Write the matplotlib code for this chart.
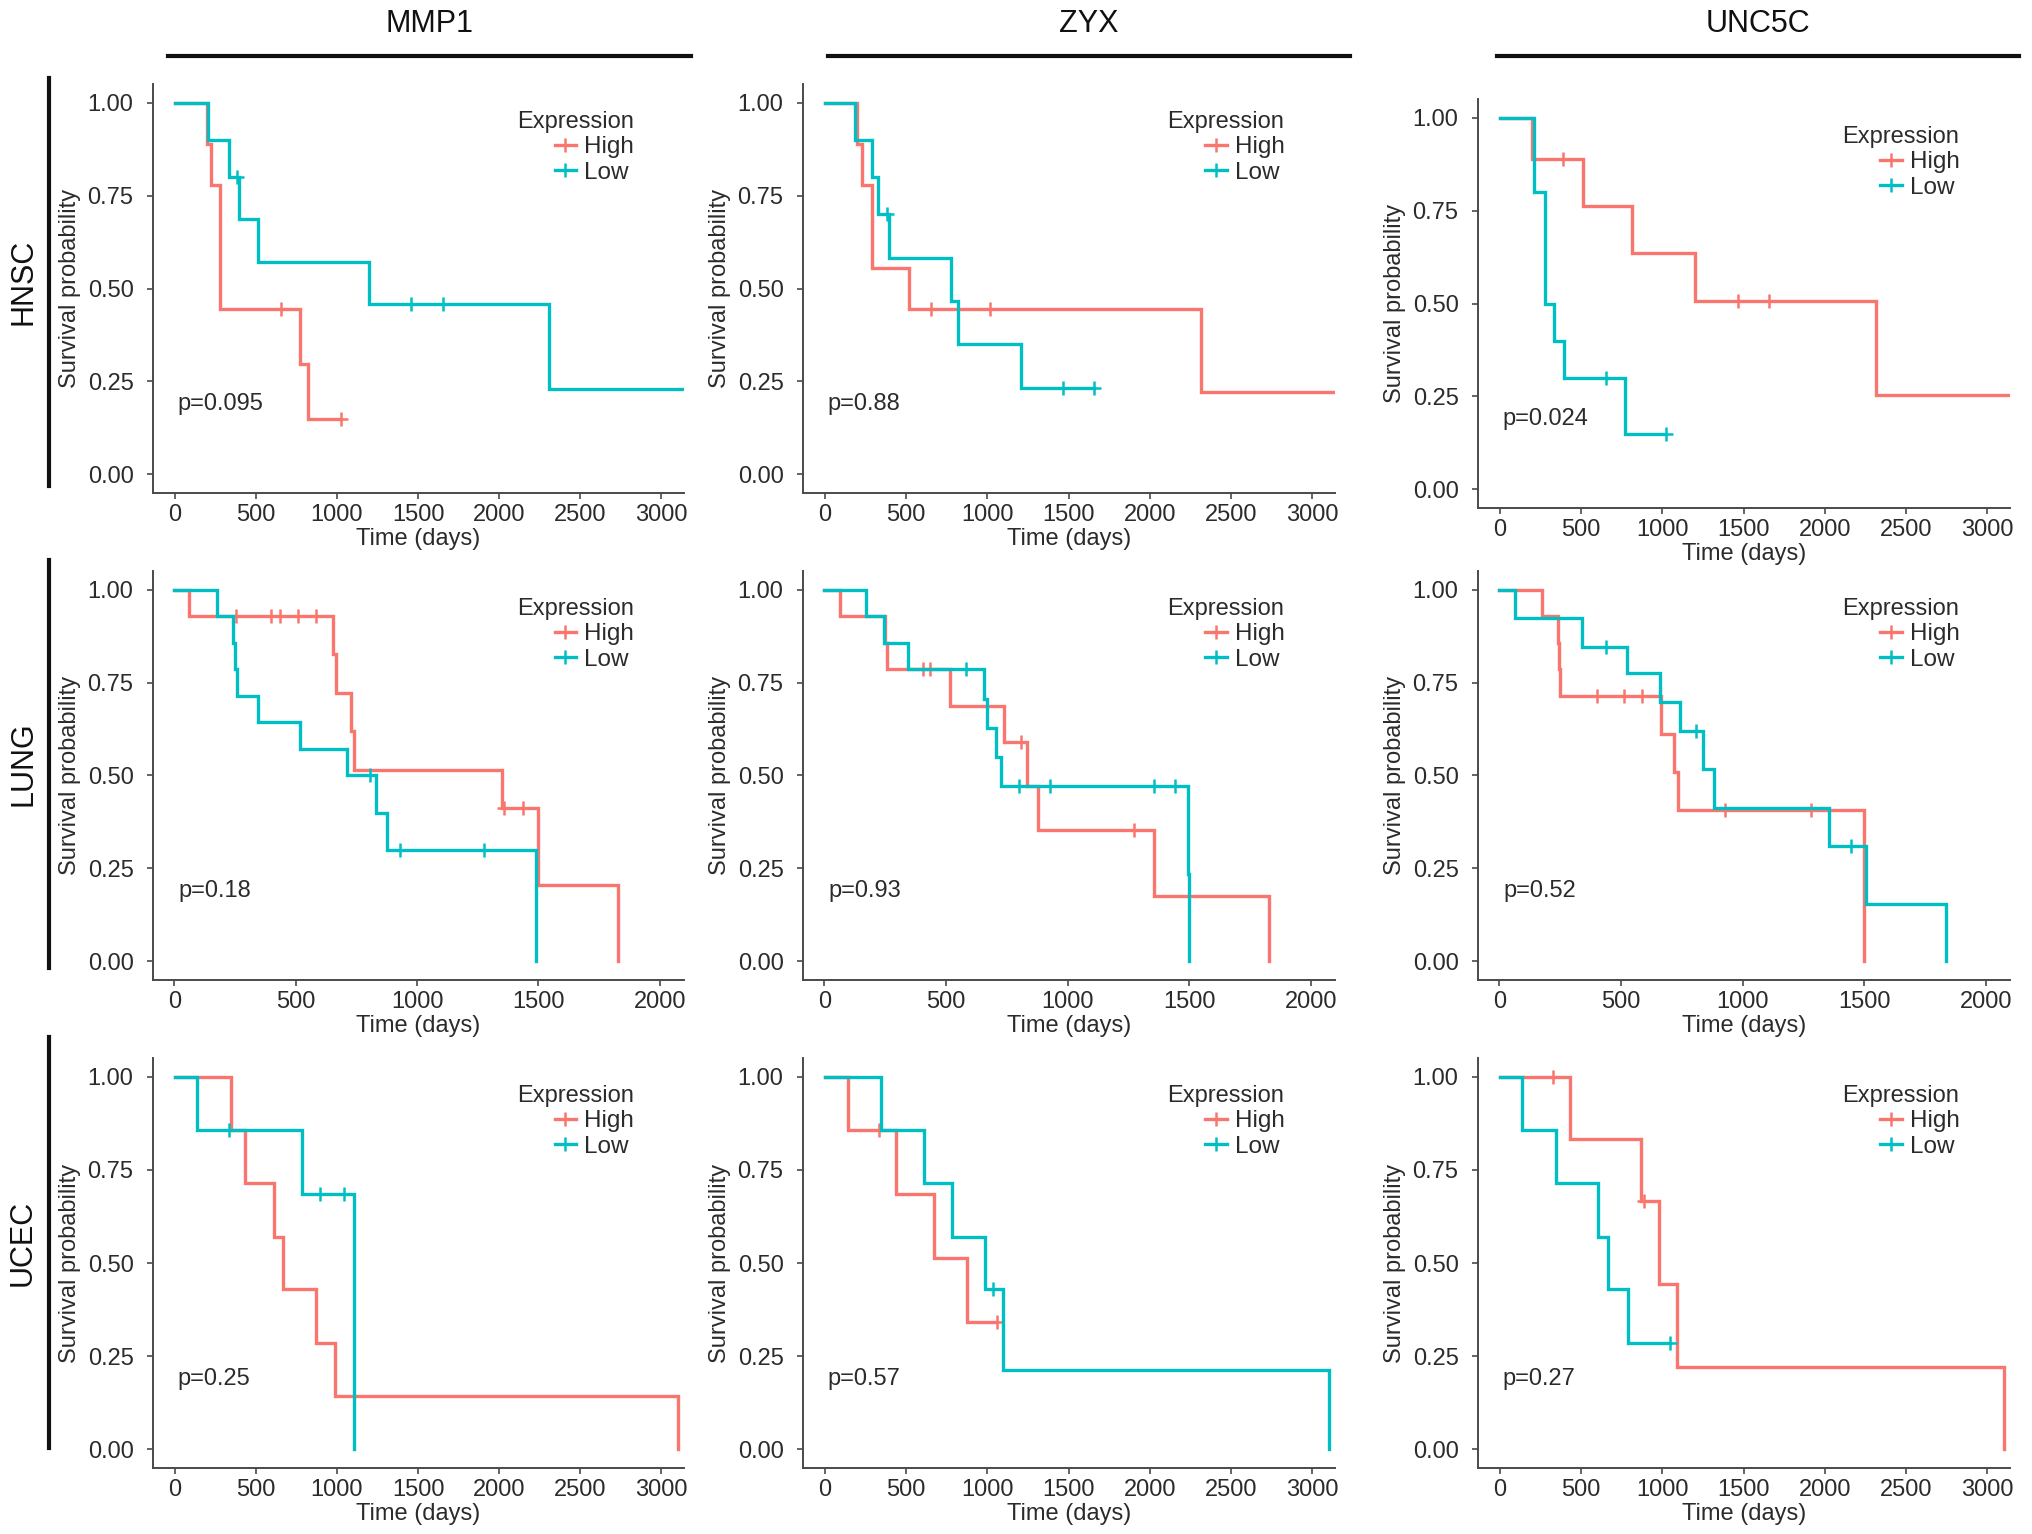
import matplotlib
matplotlib.use("Agg")
import matplotlib.pyplot as plt
from matplotlib.lines import Line2D
import numpy as np

plt.rcParams['font.family'] = ['Liberation Sans', 'DejaVu Sans']

HIGH_COLOR = "#F8766D"
LOW_COLOR = "#00BFC4"

genes = ["MMP1", "ZYX", "UNC5C"]
cancers = ["HNSC", "LUNG", "UCEC"]
groups = ["High", "Low"]

# Kaplan-Meier steps: time (days) and survival after each step
# HNSC
hnsc_mmp1_high_t = [0, 200, 222, 278, 772, 819, 1028]
hnsc_mmp1_high_s = [1, 0.889, 0.778, 0.444, 0.296, 0.148, 0.148]
hnsc_mmp1_high_c = [653, 1028]
hnsc_mmp1_low_t = [0, 208, 333, 395, 514, 1200, 2306, 3140]
hnsc_mmp1_low_s = [1, 0.9, 0.8, 0.686, 0.571, 0.457, 0.229, 0.229]
hnsc_mmp1_low_c = [385, 1458, 1653]

hnsc_zyx_high_t = [0, 200, 227, 289, 519, 2316, 3140]
hnsc_zyx_high_s = [1, 0.889, 0.778, 0.556, 0.444, 0.222, 0.222]
hnsc_zyx_high_c = [654, 1019]
hnsc_zyx_low_t = [0, 189, 289, 330, 397, 776, 822, 1208, 1654]
hnsc_zyx_low_s = [1, 0.9, 0.8, 0.7, 0.583, 0.467, 0.35, 0.233, 0.233]
hnsc_zyx_low_c = [384, 1465, 1654]

hnsc_unc5c_high_t = [0, 200, 513, 816, 1201, 2318, 3140]
hnsc_unc5c_high_s = [1, 0.889, 0.762, 0.635, 0.508, 0.254, 0.254]
hnsc_unc5c_high_c = [388, 1463, 1655]
hnsc_unc5c_low_t = [0, 211, 278, 332, 398, 773, 1021]
hnsc_unc5c_low_s = [1, 0.8, 0.5, 0.4, 0.3, 0.15, 0.15]
hnsc_unc5c_low_c = [652, 1021]

# LUNG
lung_mmp1_high_t = [0, 61, 655, 664, 729, 742, 1350, 1499, 1828]
lung_mmp1_high_s = [1, 0.929, 0.826, 0.722, 0.619, 0.516, 0.413, 0.206, 0]
lung_mmp1_high_c = [254, 399, 436, 510, 584, 1358, 1438]
lung_mmp1_low_t = [0, 176, 240, 250, 258, 343, 519, 710, 831, 876, 1490]
lung_mmp1_low_s = [1, 0.929, 0.857, 0.786, 0.714, 0.643, 0.571, 0.5, 0.4, 0.3, 0]
lung_mmp1_low_c = [807, 928, 1276]

lung_zyx_high_t = [0, 63, 250, 256, 517, 739, 832, 880, 1355, 1827]
lung_zyx_high_s = [1, 0.929, 0.857, 0.786, 0.688, 0.589, 0.471, 0.353, 0.176, 0]
lung_zyx_high_c = [405, 436, 809, 1274]
lung_zyx_low_t = [0, 171, 247, 342, 656, 668, 705, 726, 1495, 1500]
lung_zyx_low_s = [1, 0.929, 0.857, 0.786, 0.707, 0.628, 0.55, 0.471, 0.235, 0]
lung_zyx_low_c = [584, 802, 926, 1355, 1441]

lung_unc5c_high_t = [0, 177, 240, 246, 251, 666, 720, 734, 1499]
lung_unc5c_high_s = [1, 0.929, 0.857, 0.786, 0.714, 0.612, 0.51, 0.408, 0]
lung_unc5c_high_c = [403, 514, 585, 929, 1280]
lung_unc5c_low_t = [0, 63, 340, 523, 662, 743, 836, 881, 1355, 1508, 1835]
lung_unc5c_low_s = [1, 0.923, 0.846, 0.775, 0.697, 0.62, 0.517, 0.413, 0.31, 0.155, 0]
lung_unc5c_low_c = [439, 809, 1445]

# UCEC
ucec_mmp1_high_t = [0, 347, 431, 611, 667, 869, 986, 3106]
ucec_mmp1_high_s = [1, 0.857, 0.714, 0.571, 0.429, 0.286, 0.143, 0]
ucec_mmp1_high_c = []
ucec_mmp1_low_t = [0, 139, 786, 1103]
ucec_mmp1_low_s = [1, 0.857, 0.686, 0]
ucec_mmp1_low_c = [333, 894, 1042]

ucec_zyx_high_t = [0, 141, 439, 675, 873, 1062]
ucec_zyx_high_s = [1, 0.857, 0.686, 0.514, 0.343, 0.343]
ucec_zyx_high_c = [331, 1062]
ucec_zyx_low_t = [0, 344, 610, 786, 989, 1095, 3106]
ucec_zyx_low_s = [1, 0.857, 0.714, 0.571, 0.429, 0.214, 0]
ucec_zyx_low_c = [1035]

ucec_unc5c_high_t = [0, 432, 867, 979, 1093, 3106]
ucec_unc5c_high_s = [1, 0.833, 0.667, 0.444, 0.222, 0]
ucec_unc5c_high_c = [325, 885]
ucec_unc5c_low_t = [0, 139, 344, 605, 664, 787, 1045]
ucec_unc5c_low_s = [1, 0.857, 0.714, 0.571, 0.429, 0.286, 0.286]
ucec_unc5c_low_c = [1045]

p_hnsc = ["0.095", "0.88", "0.024"]
p_lung = ["0.18", "0.93", "0.52"]
p_ucec = ["0.25", "0.57", "0.27"]

x_max_by_row = [3000, 2000, 3000]
y_ticks = [0, 0.25, 0.5, 0.75, 1.0]

curves = {
    (0, 0): ((hnsc_mmp1_high_t, hnsc_mmp1_high_s, hnsc_mmp1_high_c), (hnsc_mmp1_low_t, hnsc_mmp1_low_s, hnsc_mmp1_low_c)),
    (0, 1): ((hnsc_zyx_high_t, hnsc_zyx_high_s, hnsc_zyx_high_c), (hnsc_zyx_low_t, hnsc_zyx_low_s, hnsc_zyx_low_c)),
    (0, 2): ((hnsc_unc5c_high_t, hnsc_unc5c_high_s, hnsc_unc5c_high_c), (hnsc_unc5c_low_t, hnsc_unc5c_low_s, hnsc_unc5c_low_c)),
    (1, 0): ((lung_mmp1_high_t, lung_mmp1_high_s, lung_mmp1_high_c), (lung_mmp1_low_t, lung_mmp1_low_s, lung_mmp1_low_c)),
    (1, 1): ((lung_zyx_high_t, lung_zyx_high_s, lung_zyx_high_c), (lung_zyx_low_t, lung_zyx_low_s, lung_zyx_low_c)),
    (1, 2): ((lung_unc5c_high_t, lung_unc5c_high_s, lung_unc5c_high_c), (lung_unc5c_low_t, lung_unc5c_low_s, lung_unc5c_low_c)),
    (2, 0): ((ucec_mmp1_high_t, ucec_mmp1_high_s, ucec_mmp1_high_c), (ucec_mmp1_low_t, ucec_mmp1_low_s, ucec_mmp1_low_c)),
    (2, 1): ((ucec_zyx_high_t, ucec_zyx_high_s, ucec_zyx_high_c), (ucec_zyx_low_t, ucec_zyx_low_s, ucec_zyx_low_c)),
    (2, 2): ((ucec_unc5c_high_t, ucec_unc5c_high_s, ucec_unc5c_high_c), (ucec_unc5c_low_t, ucec_unc5c_low_s, ucec_unc5c_low_c)),
}
p_values = [p_hnsc, p_lung, p_ucec]

W, H = 2032, 1534
fig = plt.figure(figsize=(W / 100, H / 100), dpi=100)


def fx(px):
    return px / W


def fy(py):
    return 1 - py / H


# axes boxes in pixels: left, right, top, bottom
col_lr = [(153, 684), (803, 1335), (1478, 2010)]
row_tb = [(84, 493), (571, 980), (1058, 1468)]

AX_COLOR = "#4a4a4a"
TXT_COLOR = "#2b2b2b"


def surv_at(t, s, x):
    i = np.searchsorted(t, x, side="right") - 1
    return s[max(i, 0)]


for r in range(3):
    for c in range(3):
        left, right = col_lr[c]
        top, bottom = row_tb[r]
        if r == 0 and c == 2:
            top, bottom = top + 15, bottom + 15
        ax = fig.add_axes([fx(left), fy(bottom), (right - left) / W, (bottom - top) / H])
        colors = [HIGH_COLOR, LOW_COLOR]
        for (t, s, cens), col in zip(curves[(r, c)], colors):
            ax.step(t, s, where="post", color=col, lw=2.4, solid_joinstyle="miter")
            cy = [surv_at(t, s, x) for x in cens]
            ax.plot(cens, cy, ls="none", marker="+", ms=10, mew=1.8, color=col)

        xmax = x_max_by_row[r]
        if xmax == 3000:
            ax.set_xlim(-134, 3140)
        else:
            ax.set_xlim(-88, 2100)
        ax.set_ylim(-0.05, 1.05)
        ax.set_xticks(np.arange(0, xmax + 1, 500))
        ax.set_yticks(y_ticks)
        ax.set_yticklabels(["{:.2f}".format(v) for v in y_ticks])

        for side in ["top", "right"]:
            ax.spines[side].set_visible(False)
        for side in ["left", "bottom"]:
            ax.spines[side].set_color(AX_COLOR)
            ax.spines[side].set_linewidth(1.4)
        ax.tick_params(axis="both", direction="out", length=4, width=1.2, color=AX_COLOR,
                       labelsize=17, labelcolor=TXT_COLOR)
        ax.tick_params(axis="y", pad=10)
        ax.tick_params(axis="x", pad=4)

        ax.set_ylabel("Survival probability", fontsize=17, color=TXT_COLOR)
        ax.yaxis.set_label_coords(-0.135, 0.5)
        ax.set_xlabel("Time (days)", fontsize=17, color=TXT_COLOR)
        ax.xaxis.set_label_coords(0.5, -0.085)

        ax.text(15, 0.19, "p=" + p_values[r][c], fontsize=17, color=TXT_COLOR,
                ha="left", va="center")

        handles = [Line2D([], [], color=col, lw=2.4, marker="+", ms=10, mew=1.8) for col in colors]
        leg = ax.legend(handles, groups, title="Expression", loc="upper right",
                        bbox_to_anchor=(0.905, 0.935), frameon=False, fontsize=17.5,
                        title_fontsize=17, handlelength=0.9, handletextpad=0.3,
                        labelspacing=0.15, borderpad=0, borderaxespad=0, alignment="right")
        leg.get_title().set_color(TXT_COLOR)
        for txt in leg.get_texts():
            txt.set_color(TXT_COLOR)

# column headers with lines
header_x = [(168, 691), (828, 1350), (1497, 2019)]
for g, (x0, x1) in zip(genes, header_x):
    fig.text(fx((x0 + x1) / 2), fy(24), g, fontsize=22, ha="center", va="center", color="#111111")
    fig.add_artist(Line2D([fx(x0), fx(x1)], [fy(56), fy(56)], color="#111111", lw=3))

# row labels with vertical lines
row_lines = [(78, 486), (560, 968), (1037, 1448)]
for cname, (y0, y1) in zip(cancers, row_lines):
    fig.text(fx(23), fy((y0 + y1) / 2), cname, fontsize=22, rotation=90,
             ha="center", va="center", color="#111111")
    fig.add_artist(Line2D([fx(49), fx(49)], [fy(y0), fy(y1)], color="#111111", lw=3))

fig.savefig("out.png", dpi=100, facecolor="white")
